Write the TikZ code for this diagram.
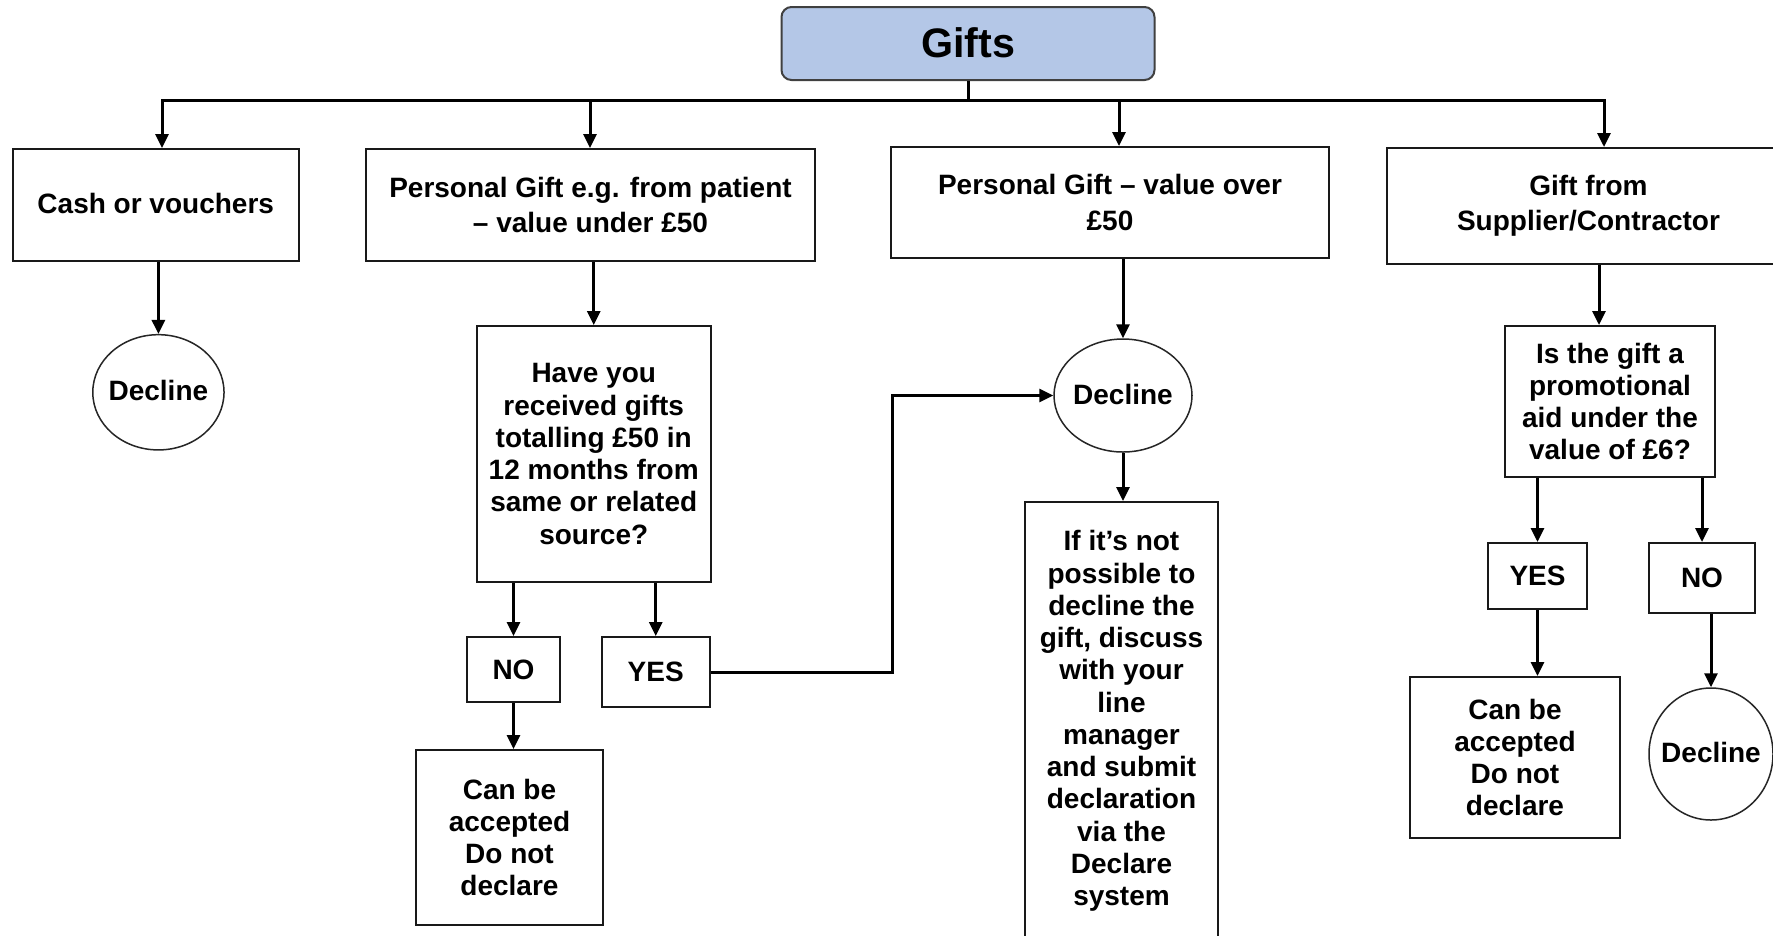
\documentclass[tikz,border=0pt]{standalone}
\usepackage{fontspec}
\setmainfont{Liberation Sans}
\usetikzlibrary{arrows.meta,shapes.geometric,calc}
\definecolor{giftblue}{HTML}{B4C7E7}
\definecolor{giftborder}{HTML}{404040}
\tikzset{
  box/.style={draw=black!90,line width=0.8pt,rectangle,align=center,inner sep=0pt,
    font=\fontsize{11.2}{12.9}\selectfont\bfseries},
  toprow/.style={box,font=\fontsize{11.2}{14.2}\selectfont\bfseries},
  oval/.style={draw=black!85,line width=0.6pt,ellipse,inner sep=0pt,
    font=\fontsize{11.2}{12.9}\selectfont\bfseries},
  conn/.style={line width=1.2pt,black},
  arr/.style={conn,-{Triangle[length=5.6pt,width=5.2pt]}},
}
\newcommand{\dtext}{\makebox[0pt]{\raisebox{1.2pt}{Decline}}}
\begin{document}
\begin{tikzpicture}[x=0.4pt,y=-0.4pt]
\useasboundingbox (0,0) rectangle (1773,935);
\fill[white] (0,0) rectangle (1773,935);
\clip (0,0) rectangle (1773,935);

% top
\node[box,draw=giftborder,fill=giftblue,rounded corners=4pt,minimum width=149.2pt,minimum height=29.2pt,
  font=\fontsize{16.5}{19}\selectfont\bfseries] (gifts) at (968,43.5) {\raisebox{0.8pt}{Gifts}};

% first row
\node[toprow,minimum width=114.2pt,minimum height=44.8pt] (cash) at (155.75,205) {\raisebox{1pt}{Cash or vouchers}};
\node[toprow,minimum width=179.6pt,minimum height=44.8pt] (under) at (590.5,205) {Personal Gift e.g. from patient\\ -- value under £50};
\node[toprow,minimum width=175.2pt,minimum height=44.4pt] (over) at (1110,202.5) {Personal Gift -- value over\\ £50};
\node[toprow,minimum width=161.2pt,minimum height=46.4pt] (supp) at (1588.5,206) {Gift from\\ Supplier/Contractor};

% column 1
\node[oval,minimum width=52.5pt,minimum height=46.1pt] (d1) at (158.4,392.3) {\dtext};

% column 2
\node[box,minimum width=93.8pt,minimum height=102.4pt] (q) at (593.75,454) {Have you\\ received gifts\\ totalling £50 in\\ 12 months from\\ same or related\\ source?};
\node[box,minimum width=37.2pt,minimum height=26pt] (no1) at (513.5,669.5) {NO};
\node[box,minimum width=43pt,minimum height=28pt] (yes1) at (655.75,672) {YES};
\node[box,minimum width=74.8pt,minimum height=70pt] (acc1) at (509.5,837.5) {Can be\\ accepted\\ Do not\\ declare};

% column 3
\node[oval,minimum width=55.2pt,minimum height=45.2pt] (d2) at (1123,395.5) {\dtext};
\node[box,minimum width=77.2pt,minimum height=175.2pt] (decl) at (1121.5,721) {If it’s not\\ possible to\\ decline the\\ gift, discuss\\ with your\\ line\\ manager\\ and submit\\ declaration\\ via the\\ Declare\\ system};

% column 4
\node[box,minimum width=84pt,minimum height=60.4pt] (promo) at (1610,401.5) {Is the gift a\\ promotional\\ aid under the\\ value of £6?};
\node[box,minimum width=39.6pt,minimum height=26.4pt] (yes2) at (1537.5,576) {YES};
\node[box,minimum width=42.4pt,minimum height=28pt] (no2) at (1702,578) {NO};
\node[box,minimum width=84pt,minimum height=64.4pt] (acc2) at (1515,757.5) {Can be\\ accepted\\ Do not\\ declare};
\node[oval,minimum width=49.6pt,minimum height=52.8pt] (d3) at (1711,754) {\dtext};

% bus
\coordinate (bL) at (162,100);
\coordinate (bR) at (1604,100);
\coordinate (b2) at (590,100);
\coordinate (b3) at (1119,100);
\draw[conn] (gifts.south) -- (gifts.south |- bL);
\draw[conn,{Triangle[length=5.6pt,width=5.2pt]}-{Triangle[length=5.6pt,width=5.2pt]}]
  (bL |- cash.north) -- (bL) -- (bR) -- (bR |- supp.north);
\draw[arr] (b2) -- (b2 |- under.north);
\draw[arr] (b3) -- (b3 |- over.north);

% connectors
\coordinate (pa) at ($(promo.north)+(-11,0)$);
\draw[arr] (d1.north |- cash.south) -- (d1.north);
\draw[arr] (q.north |- under.south) -- (q.north);
\draw[arr] (no1.north |- q.south) -- (no1.north);
\draw[arr] (yes1.north |- q.south) -- (yes1.north);
\draw[arr] (no1.south) -- (no1.south |- acc1.north);
\draw[arr] (yes1.east) -- ++(181.5,0) |- (d2.west);
\draw[arr] (d2.north |- over.south) -- (d2.north);
\draw[arr] (d2.south) -- (d2.south |- decl.north);
\draw[arr] (pa |- supp.south) -- (pa);
\draw[arr] (yes2.north |- promo.south) -- (yes2.north);
\draw[arr] (no2.north |- promo.south) -- (no2.north);
\draw[arr] (yes2.south) -- (yes2.south |- acc2.north);
\draw[arr] (d3.north |- no2.south) -- (d3.north);
\end{tikzpicture}
\end{document}
